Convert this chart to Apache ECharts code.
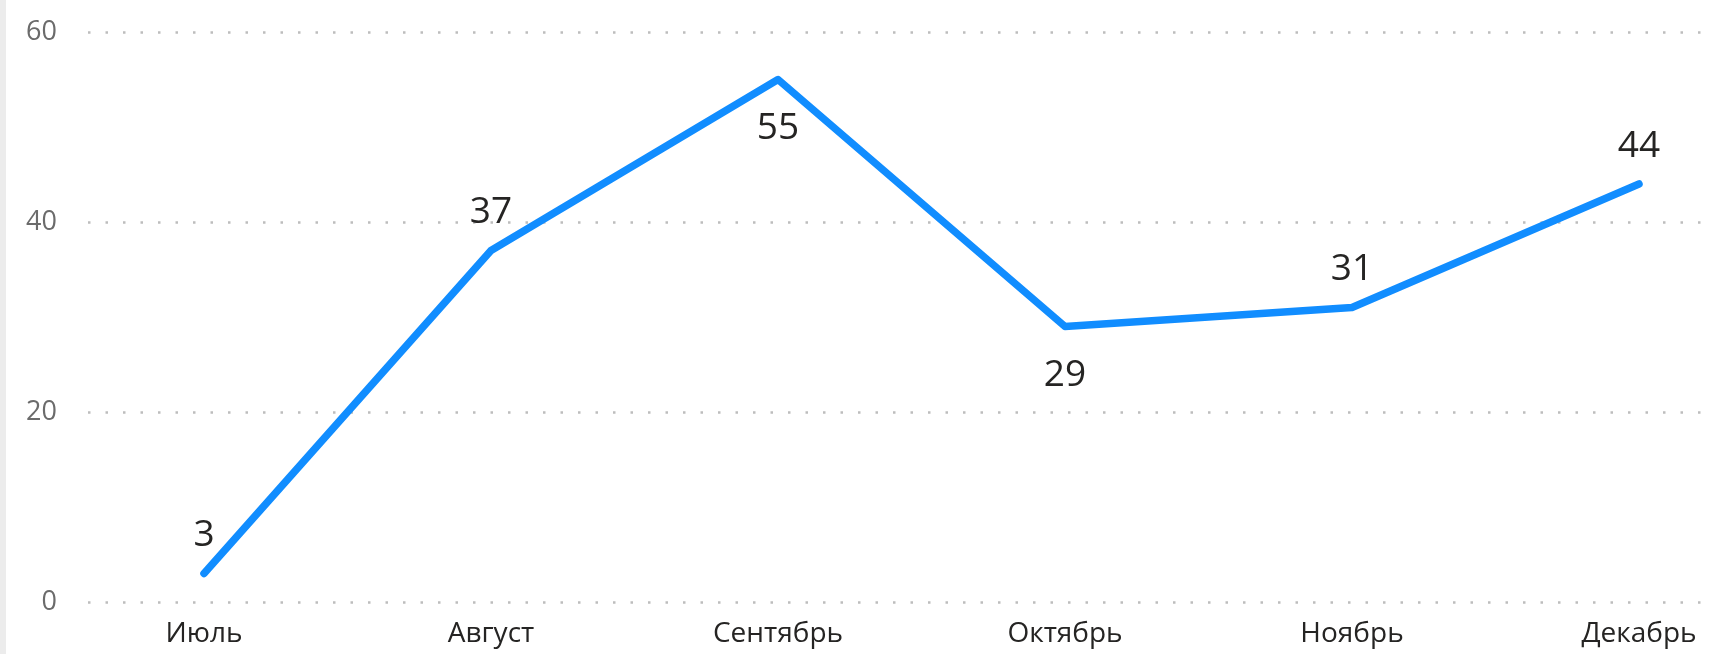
<!DOCTYPE html>
<html>
<head>
<meta charset="utf-8">
<script src="https://cdn.jsdelivr.net/npm/echarts@6/dist/echarts.min.js"></script>
<style>
  html, body { margin: 0; padding: 0; background: #ffffff; }
  #wrap { position: relative; width: 1713px; height: 654px; }
  #edge { position: absolute; left: 0; top: 0; width: 6px; height: 654px; background: #ececec; z-index: 2; }
  #chart { position: absolute; left: 0; top: 0; width: 1713px; height: 654px; }
</style>
</head>
<body>
<div id="wrap"><div id="edge"></div><div id="chart"></div></div>
<script>
const categories = ['Июль', 'Август', 'Сентябрь', 'Октябрь', 'Ноябрь', 'Декабрь'];
const values = [3, 37, 55, 29, 31, 44];
const yTicks = [0, 20, 40, 60];

const FONT = '"Open Sans", "Noto Sans", sans-serif';

// Label placement: below at interior peaks/valleys, above otherwise
const seriesData = values.map((v, i) => {
  const prev = values[i - 1], next = values[i + 1];
  const interior = prev !== undefined && next !== undefined;
  const extremum = interior && ((v > prev && v > next) || (v < prev && v < next));
  return {
    value: v,
    label: extremum ? { position: 'bottom', distance: 30 } : { position: 'top', distance: 19 }
  };
});

const chart = echarts.init(document.getElementById('chart'), null, { renderer: 'canvas' });
chart.setOption({
  animation: false,
  grid: [
    { left: 204, right: 74, top: 32, bottom: 52 },
    { left: 88, right: 0, top: 32, bottom: 52 }
  ],
  xAxis: [
    {
      type: 'category', gridIndex: 0, data: categories, boundaryGap: false,
      axisLine: { show: false }, axisTick: { show: false },
      axisLabel: { color: '#252423', fontFamily: FONT, fontSize: 28, margin: 18 }
    },
    { type: 'value', gridIndex: 1, show: false, min: 0, max: 1 }
  ],
  yAxis: [
    { type: 'value', gridIndex: 0, min: yTicks[0], max: yTicks[yTicks.length - 1], interval: 20, show: false },
    {
      type: 'value', gridIndex: 1, min: yTicks[0], max: yTicks[yTicks.length - 1], interval: 20,
      axisLine: { show: false }, axisTick: { show: false },
      axisLabel: { color: '#6b6b6b', fontFamily: FONT, fontSize: 27, margin: 31 },
      splitLine: { show: true, lineStyle: { color: '#bdbdbd', width: 2.5, type: [2.5, 15] } }
    }
  ],
  series: [{
    type: 'line', xAxisIndex: 0, yAxisIndex: 0,
    data: seriesData,
    symbol: 'circle', symbolSize: 1, showSymbol: true,
    itemStyle: { color: 'rgba(0,0,0,0)' },
    lineStyle: { color: '#118DFF', width: 7.5, cap: 'round', join: 'round' },
    label: { show: true, color: '#252423', fontFamily: FONT, fontSize: 37 }
  }]
});
</script>
</body>
</html>
